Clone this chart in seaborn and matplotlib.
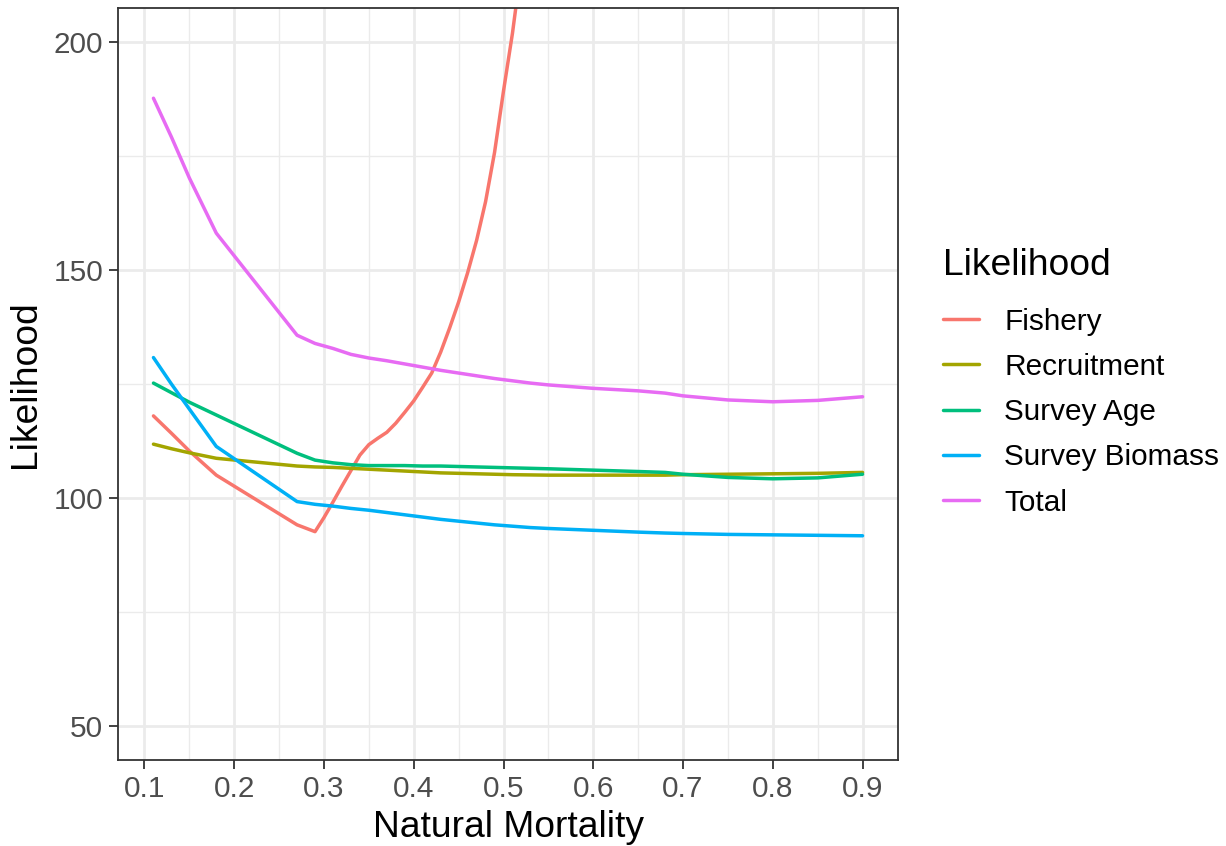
import numpy as np
import pandas as pd
import matplotlib
matplotlib.use("Agg")
import matplotlib.pyplot as plt
import seaborn as sns
from matplotlib.ticker import MultipleLocator

# Natural mortality values of the likelihood profile
mortality = [0.11, 0.13, 0.15, 0.18, 0.27, 0.29, 0.31, 0.33, 0.35, 0.37, 0.39,
             0.41, 0.43, 0.45, 0.47, 0.49, 0.51, 0.53, 0.55, 0.60, 0.65, 0.68,
             0.70, 0.75, 0.80, 0.85, 0.90]

# Fishery component is profiled on a finer grid; it leaves the plotted range near 0.52
fishery_mortality = [0.11, 0.13, 0.15, 0.18, 0.27, 0.29, 0.30, 0.31, 0.32, 0.33, 0.34,
                     0.35, 0.36, 0.37, 0.38, 0.39, 0.40, 0.41, 0.42, 0.43, 0.44, 0.45,
                     0.46, 0.47, 0.48, 0.49, 0.50, 0.51, 0.52, 0.53]
fishery = [118.0, 114.2, 110.3, 105.0, 94.1, 92.6, 95.7, 99.1, 102.6, 106.0, 109.4,
           111.7, 113.1, 114.4, 116.4, 118.8, 121.3, 124.3, 127.4, 132.0, 137.3, 143.0,
           149.4, 156.5, 165.0, 175.8, 189.3, 202.0, 217.0, 233.0]

recruitment = [111.8, 110.8, 109.9, 108.7, 107.0, 106.8, 106.7, 106.5, 106.3, 106.1, 105.9,
               105.7, 105.5, 105.4, 105.3, 105.2, 105.1, 105.05, 105.0, 105.0, 105.0, 105.0,
               105.1, 105.2, 105.3, 105.4, 105.6]
survey_age = [125.2, 123.1, 121.0, 118.2, 109.8, 108.3, 107.7, 107.3, 107.1, 107.1, 107.1,
              107.0, 107.0, 106.9, 106.8, 106.7, 106.6, 106.5, 106.4, 106.1, 105.8, 105.6,
              105.2, 104.5, 104.2, 104.4, 105.2]
survey_biomass = [130.8, 125.0, 119.5, 111.3, 99.2, 98.6, 98.2, 97.7, 97.3, 96.8, 96.3,
                  95.8, 95.3, 94.9, 94.5, 94.1, 93.8, 93.5, 93.3, 92.9, 92.5, 92.3,
                  92.2, 92.0, 91.9, 91.8, 91.7]
total = [187.7, 179.2, 170.2, 158.1, 135.7, 133.9, 132.8, 131.5, 130.7, 130.1, 129.4,
         128.7, 128.0, 127.4, 126.8, 126.2, 125.7, 125.2, 124.8, 124.05, 123.5, 123.0,
         122.4, 121.5, 121.1, 121.4, 122.2]

components = ["Fishery", "Recruitment", "Survey Age", "Survey Biomass", "Total"]
colors = ["#F8766D", "#A3A500", "#00BF7D", "#00B0F6", "#E76BF3"]

frames = [pd.DataFrame({"M": fishery_mortality, "value": fishery, "Likelihood": "Fishery"})]
for name, vals in zip(components[1:], [recruitment, survey_age, survey_biomass, total]):
    frames.append(pd.DataFrame({"M": mortality, "value": vals, "Likelihood": name}))
df = pd.concat(frames, ignore_index=True)

sns.set_theme(style="white")
plt.rcParams["font.family"] = ["Liberation Sans", "DejaVu Sans"]

fig = plt.figure(figsize=(12.26, 8.46), dpi=100)
ax = fig.add_axes([118 / 1226, 1 - 760 / 846, (898 - 118) / 1226, (760 - 8) / 846])

sns.lineplot(data=df, x="M", y="value", hue="Likelihood", hue_order=components,
             palette=colors, linewidth=2.5, ax=ax, sort=True, estimator=None)

# axis ranges with 5% padding like ggplot
ax.set_xlim(0.0705, 0.9395)
ax.set_ylim(42.5, 207.5)
xt = np.round(np.arange(0.1, 0.91, 0.1), 1)
ax.set_xticks(xt)
ax.set_xticklabels([f"{v:.1f}" for v in xt])
ax.set_yticks([50, 100, 150, 200])
ax.xaxis.set_minor_locator(MultipleLocator(0.05))
ax.yaxis.set_minor_locator(MultipleLocator(25))

ax.grid(which="major", color="#EBEBEB", linewidth=2.0)
ax.grid(which="minor", color="#EBEBEB", linewidth=1.0)
ax.set_axisbelow(True)

for s in ax.spines.values():
    s.set_color("#333333")
    s.set_linewidth(1.3)

ax.tick_params(axis="both", which="major", length=6.5, width=1.3, color="#333333",
               labelsize=21.4, labelcolor="#4D4D4D", pad=4, bottom=True, left=True)
ax.tick_params(axis="both", which="minor", length=0)

ax.set_xlabel("Natural Mortality", fontsize=26.8, color="black", labelpad=5)
ax.set_ylabel("Likelihood", fontsize=26.8, color="black", labelpad=8)

leg = ax.legend(title="Likelihood", loc="upper left", bbox_to_anchor=(0.7695, 0.7065),
                bbox_transform=fig.transFigure, frameon=False, fontsize=21.4,
                title_fontsize=26.8, handlelength=1.2, handletextpad=0.85,
                labelspacing=0.58, borderaxespad=0, borderpad=0)
leg._legend_box.align = "left"
leg._legend_box.sep = 17.5
leg.get_title().set_color("black")
for t in leg.get_texts():
    t.set_color("black")
for line in leg.get_lines():
    line.set_linewidth(2.5)

fig.savefig("out.png", dpi=100)
